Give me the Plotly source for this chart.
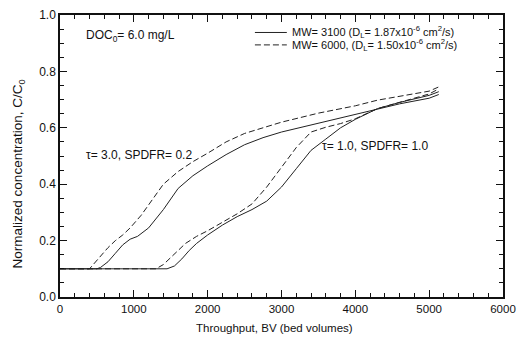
import plotly.graph_objects as go

# tau = 3.0, SPDFR = 0.2
x_t3_mw3100 = [0, 500, 550, 650, 750, 850, 950, 1050, 1200, 1400, 1600, 1800, 2000, 2250, 2500, 2750, 3000, 3500, 4000, 4300, 4600, 5000, 5130]
y_t3_mw3100 = [0.1, 0.1, 0.105, 0.125, 0.155, 0.185, 0.205, 0.215, 0.245, 0.31, 0.385, 0.43, 0.465, 0.505, 0.54, 0.565, 0.585, 0.617, 0.648, 0.668, 0.685, 0.705, 0.718]
x_t3_mw6000 = [0, 400, 450, 550, 650, 750, 850, 950, 1100, 1250, 1400, 1600, 1800, 2000, 2250, 2500, 2750, 3000, 3500, 4000, 4300, 4600, 5000, 5130]
y_t3_mw6000 = [0.1, 0.1, 0.115, 0.145, 0.175, 0.2, 0.22, 0.245, 0.29, 0.345, 0.40, 0.445, 0.48, 0.51, 0.55, 0.58, 0.6, 0.62, 0.652, 0.678, 0.698, 0.712, 0.73, 0.745]

# tau = 1.0, SPDFR = 1.0
x_t1_mw3100 = [0, 1450, 1550, 1650, 1750, 1850, 2000, 2200, 2400, 2600, 2800, 3000, 3200, 3400, 3600, 3800, 4000, 4300, 4600, 5000, 5130]
y_t1_mw3100 = [0.1, 0.1, 0.11, 0.135, 0.165, 0.19, 0.22, 0.255, 0.285, 0.31, 0.34, 0.39, 0.455, 0.52, 0.56, 0.60, 0.63, 0.668, 0.69, 0.715, 0.728]
x_t1_mw6000 = [0, 1300, 1400, 1500, 1600, 1700, 1850, 2000, 2200, 2400, 2600, 2800, 3000, 3200, 3400, 3600, 3800, 4000, 4300, 4600, 5000, 5130]
y_t1_mw6000 = [0.1, 0.1, 0.115, 0.14, 0.165, 0.19, 0.215, 0.235, 0.265, 0.295, 0.33, 0.39, 0.46, 0.53, 0.585, 0.602, 0.615, 0.632, 0.668, 0.69, 0.72, 0.738]

x_ticks = [0, 1000, 2000, 3000, 4000, 5000, 6000]
y_ticks = [0.0, 0.2, 0.4, 0.6, 0.8, 1.0]

legend_labels = [
    "MW= 3100 (D<sub>L</sub>= 1.87x10<sup>-6</sup> cm<sup>2</sup>/s)",
    "MW= 6000, (D<sub>L</sub>= 1.50x10<sup>-6</sup> cm<sup>2</sup>/s)",
]

FONT = "Arial, Liberation Sans, sans-serif"
LC = "#222"
solid = dict(color=LC, width=1)
dashed = dict(color=LC, width=1, dash="6px,3px")
styles = [solid, dashed]

fig = go.Figure()
fig.add_trace(go.Scatter(x=x_t3_mw3100, y=y_t3_mw3100, mode="lines", line=solid, name=legend_labels[0]))
fig.add_trace(go.Scatter(x=x_t3_mw6000, y=y_t3_mw6000, mode="lines", line=dashed, name=legend_labels[1]))
fig.add_trace(go.Scatter(x=x_t1_mw3100, y=y_t1_mw3100, mode="lines", line=solid, name=legend_labels[0]))
fig.add_trace(go.Scatter(x=x_t1_mw6000, y=y_t1_mw6000, mode="lines", line=dashed, name=legend_labels[1]))

axis_common = dict(
    showgrid=False, zeroline=False, showline=True, linecolor="#111", linewidth=1.5,
    mirror="allticks", ticks="inside", ticklen=7, tickwidth=1, tickcolor="#111",
    automargin=False, ticklabeloverflow="allow",
)
fig.update_xaxes(range=[0, 6000], tickvals=x_ticks, ticktext=[str(v) for v in x_ticks],
                 tickfont=dict(family=FONT, size=11.5, color="#111"),
                 minor=dict(dtick=200, ticks="inside", ticklen=4, tickcolor="#111"),
                 **axis_common)
fig.update_yaxes(range=[0, 1.0], tickvals=y_ticks, ticktext=[f"{v:.1f}" for v in y_ticks],
                 tickfont=dict(family=FONT, size=12, color="#111"),
                 minor=dict(dtick=0.05, ticks="inside", ticklen=4, tickcolor="#111"),
                 **axis_common)

# axis titles placed as in the reference
fig.add_annotation(x=0.485, y=-0.11, xref="paper", yref="paper", xanchor="center", yanchor="middle",
                   text="Throughput, BV (bed volumes)", showarrow=False,
                   font=dict(family=FONT, size=11.5, color="#111"))
fig.add_annotation(x=-0.094, y=0.436, xref="paper", yref="paper", xanchor="center", yanchor="middle",
                   text="Normalized concentration, C/C<sub>0</sub>", showarrow=False, textangle=-90,
                   font=dict(family=FONT, size=13.5, color="#111"))

ann_font = dict(family=FONT, size=12, color="#111")
fig.add_annotation(x=0.055, y=0.925, xref="paper", yref="paper", xanchor="left", yanchor="middle",
                   text="DOC<sub>0</sub>= 6.0 mg/L", showarrow=False, font=ann_font)
fig.add_annotation(x=0.055, y=0.505, xref="paper", yref="paper", xanchor="left", yanchor="middle",
                   text="τ= 3.0, SPDFR= 0.2", showarrow=False, font=ann_font)
fig.add_annotation(x=0.587, y=0.535, xref="paper", yref="paper", xanchor="left", yanchor="middle",
                   text="τ= 1.0, SPDFR= 1.0", showarrow=False, font=ann_font)

# compact legend (rows closer than plotly's built-in legend allows)
legend_rows_y = [0.938, 0.894]
for label, style, ry in zip(legend_labels, styles, legend_rows_y):
    fig.add_shape(type="line", xref="paper", yref="paper", x0=0.44, x1=0.512, y0=ry, y1=ry, line=style)
    fig.add_annotation(x=0.519, y=ry, xref="paper", yref="paper", xanchor="left", yanchor="middle",
                       text=label, showarrow=False, font=dict(family=FONT, size=11, color="#111"))

fig.update_layout(
    width=517, height=341,
    margin=dict(l=60, r=14, t=15, b=44),
    paper_bgcolor="white", plot_bgcolor="white",
    font=dict(family=FONT, color="#111"),
    showlegend=False,
)

# no modebar; remove the page's default body margin so the figure fills the window exactly
fig.write_html("out.html",
               config={"displayModeBar": False},
               post_script="document.body.style.margin='0';document.body.style.overflow='hidden';")
